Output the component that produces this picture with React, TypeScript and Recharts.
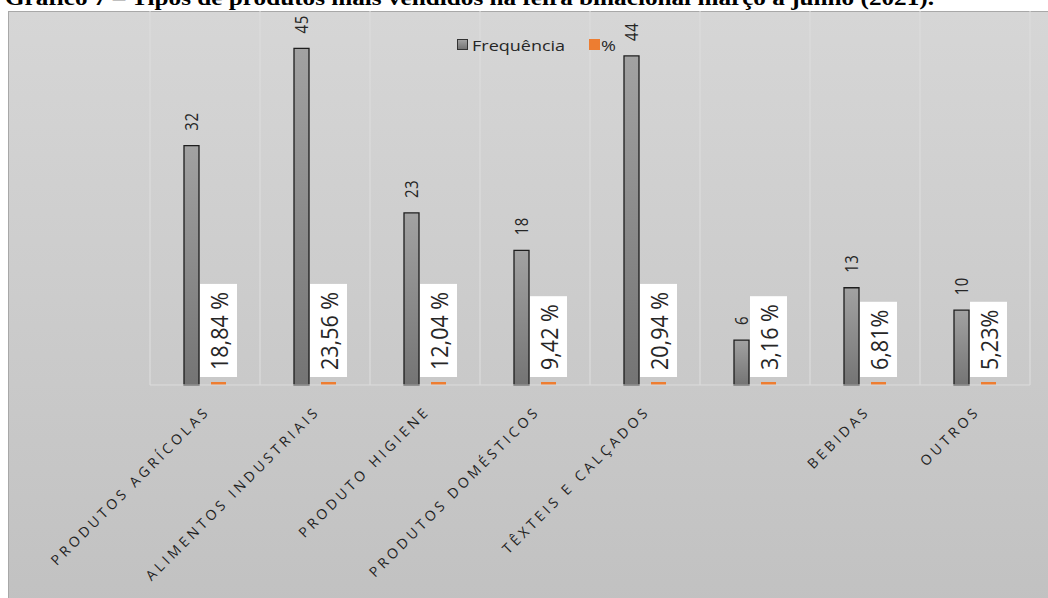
import { BarChart, Bar, XAxis, YAxis, CartesianGrid, LabelList } from 'recharts'

const categorias = [
  'PRODUTOS AGRÍCOLAS',
  'ALIMENTOS INDUSTRIAIS',
  'PRODUTO HIGIENE',
  'PRODUTOS DOMÉSTICOS',
  'TÊXTEIS E CALÇADOS',
  '',
  'BEBIDAS',
  'OUTROS',
]
const frequencia = [32, 45, 23, 18, 44, 6, 13, 10]
const percentual = [18.84, 23.56, 12.04, 9.42, 20.94, 3.16, 6.81, 5.23]
const rotulosPct = ['18,84 %', '23,56 %', '12,04 %', '9,42 %', '20,94 %', '3,16 %', '6,81%', '5,23%']

const titulo = 'Gráfico 7 – Tipos de produtos mais vendidos na feira binacional março a junho (2021).'

// no Excel o % entra como fração, por isso a barra laranja fica quase rente ao eixo
const data = categorias.map((nome, i) => ({
  nome,
  freq: frequencia[i],
  pct: percentual[i] / 100,
  rotulo: rotulosPct[i],
}))

const FONTE = "'Open Sans', sans-serif"
const LARANJA = '#ED7D31'
const TEXTO = '#262626'

let ctx: CanvasRenderingContext2D | null = null
function medir(txt: string, size: number) {
  if (!ctx) ctx = document.createElement('canvas').getContext('2d')
  if (!ctx) return txt.length * size * 0.55
  ctx.font = `${size}px 'Open Sans'`
  return ctx.measureText(txt).width
}

function caixa(props: any) {
  const vb = props.viewBox && props.viewBox.width != null ? props.viewBox : props
  return { x: Number(vb.x), y: Number(vb.y), width: Number(vb.width), height: Number(vb.height) }
}

function TickCategoria(props: any) {
  const { x, y, payload } = props
  if (!payload.value) return null
  return (
    <text
      transform={`translate(${x + 6},${y + 19}) rotate(-45)`}
      textAnchor="end"
      fontSize={14}
      letterSpacing={3.6}
      fill="#1f1f1f"
      fontFamily={FONTE}
    >
      {payload.value}
    </text>
  )
}

function RotuloFreq(props: any) {
  const { x, y, width } = caixa(props)
  const cx = x + width / 2
  return (
    <text
      transform={`translate(${cx},${y - 15}) scale(1.15,1) rotate(-90)`}
      textAnchor="start"
      dominantBaseline="central"
      fontSize={15}
      letterSpacing={0.5}
      fill={TEXTO}
      fontFamily={FONTE}
    >
      {props.value}
    </text>
  )
}

function RotuloPct(props: any) {
  const { x, y, width, height } = caixa(props)
  const cx = x + width / 2
  const base = y + height
  const tam = 21.5
  const len = medir(String(props.value), tam)
  const h = len + 15
  const w = 37
  return (
    <g>
      <rect x={cx - w / 2} y={base - 8 - h} width={w} height={h} fill="#ffffff" />
      <text
        transform={`translate(${cx + 0.5},${base - 15}) scale(1.12,1) rotate(-90)`}
        textAnchor="start"
        dominantBaseline="central"
        fontSize={tam}
        fill={TEXTO}
        fontFamily={FONTE}
      >
        {props.value}
      </text>
    </g>
  )
}

export default function App() {
  const n = categorias.length
  return (
    <div style={{ position: 'absolute', left: 0, top: 0, width: 1048, height: 598, overflow: 'hidden', background: '#fff' }}>
      <div
        style={{
          position: 'absolute', left: 5, top: -12, whiteSpace: 'nowrap',
          fontFamily: "'Liberation Serif', serif", fontWeight: 'bold', fontSize: 21, lineHeight: '21px', color: '#000',
          transform: 'scaleX(1.2)', transformOrigin: 'left',
        }}
      >
        {titulo}
      </div>
      <div
        style={{
          position: 'absolute', left: 8, top: 11, width: 1060, height: 600,
          borderLeft: '1.5px solid #a8a8a8', borderTop: '1.5px solid #a8a8a8',
          background: 'linear-gradient(#d6d6d6, #c1c1c1)',
        }}
      />
      <div style={{ position: 'absolute', left: 0, top: 0 }}>
        <svg width={0} height={0} style={{ position: 'absolute' }}>
          <defs>
            <linearGradient id="cinza" x1="0" y1="0" x2="0" y2="1">
              <stop offset="0%" stopColor="#a2a2a2" />
              <stop offset="100%" stopColor="#747474" />
            </linearGradient>
          </defs>
        </svg>
        <BarChart
          width={1048}
          height={598}
          data={data}
          margin={{ top: 11, right: 18, left: 150, bottom: 0 }}
          barGap={12}
          barSize={15}
        >
          <CartesianGrid
            horizontal={false}
            stroke="#dcdcdc"
            strokeWidth={1.2}
            verticalCoordinatesGenerator={({ offset }: any) =>
              Array.from({ length: n + 1 }, (_, i) => offset.left + (i * offset.width) / n)
            }
          />
          <XAxis
            dataKey="nome"
            height={213}
            interval={0}
            tickLine={false}
            axisLine={{ stroke: '#dcdcdc', strokeWidth: 1 }}
            tick={<TickCategoria />}
          />
          <YAxis hide domain={[0, 50]} />
          <Bar dataKey="freq" name="Frequência" fill="url(#cinza)" stroke="#1e1e1e" strokeWidth={1.3} isAnimationActive={false}>
            <LabelList dataKey="freq" content={<RotuloFreq />} />
          </Bar>
          <Bar dataKey="pct" name="%" fill={LARANJA} minPointSize={3} isAnimationActive={false}>
            <LabelList dataKey="rotulo" content={<RotuloPct />} />
          </Bar>
        </BarChart>
      </div>
      <div style={{ position: 'absolute', left: 457, top: 39, width: 9, height: 9, border: '1px solid #333', background: 'linear-gradient(#a2a2a2, #747474)' }} />
      <div style={{ position: 'absolute', left: 472, top: 35, fontFamily: FONTE, fontSize: 15, color: TEXTO, transform: 'scaleX(1.2)', transformOrigin: 'left' }}>
        Frequência
      </div>
      <div style={{ position: 'absolute', left: 589, top: 39, width: 11, height: 11, background: LARANJA }} />
      <div style={{ position: 'absolute', left: 601, top: 35, fontFamily: FONTE, fontSize: 15, color: TEXTO, transform: 'scaleX(1.2)', transformOrigin: 'left' }}>
        %
      </div>
    </div>
  )
}
